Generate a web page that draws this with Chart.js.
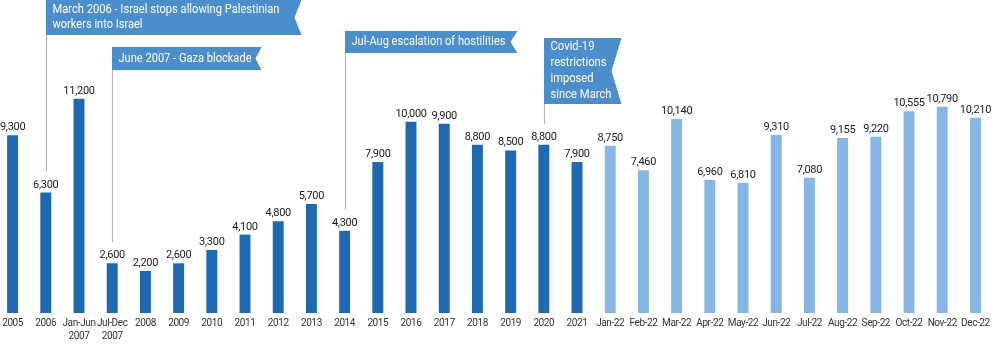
<!DOCTYPE html>
<html><head><meta charset="utf-8">
<script src="https://cdn.jsdelivr.net/npm/chart.js@4"></script>
<style>
html,body{margin:0;padding:0;background:#fff;overflow:hidden;width:1000px;height:353px}
#wrap{position:absolute;left:-4px;top:0;width:999px;height:353px}
</style>
</head><body><div id="wrap"><canvas id="c"></canvas></div>
<script>
// ---- data ----
const categories = ['2005','2006',['Jan-Jun','2007'],['Jul-Dec','2007'],'2008','2009','2010','2011','2012','2013','2014','2015','2016','2017','2018','2019','2020','2021',
  'Jan-22','Feb-22','Mar-22','Apr-22','May-22','Jun-22','Jul-22','Aug-22','Sep-22','Oct-22','Nov-22','Dec-22'];
const values = [9300,6300,11200,2600,2200,2600,3300,4100,4800,5700,4300,7900,10000,9900,8800,8500,8800,7900,
  8750,7460,10140,6960,6810,9310,7080,9155,9220,10555,10790,10210];
const monthlyFrom = 18; // index of first monthly (2022) category
const annotationCats = [1, 3, 10, 16];
const annotationTexts = [
  ['March 2006 - Israel stops allowing Palestinian','workers into Israel'],
  ['June 2007 - Gaza blockade'],
  ['Jul-Aug escalation of hostilities'],
  ['Covid-19','restrictions','imposed','since March']
];
// ---- layout of the callout flags (pixels) ----
const flagLayout = [
  {top:0, bottom:35, width:255, notch:7, textW:[227,90]},
  {top:47, bottom:70, width:149, notch:6, textW:[133]},
  {top:31, bottom:53, width:172, notch:7, textW:[154]},
  {top:38, bottom:104, width:77, notch:10, textW:[44,56,43,61]}
];

const DARK = '#1f69b3', LIGHT = '#86b6e3', FLAG = '#4c8ecc', LINE = '#b4b4b4';

const overlay = {
  id:'overlay',
  beforeDraw(chart){ chart.ctx.letterSpacing = '-0.4px'; },
  afterDatasetsDraw(chart){
    const ctx = chart.ctx, xs = chart.scales.x, ys = chart.scales.y;
    ctx.save();
    ctx.letterSpacing = '-0.3px';
    ctx.font = '11px Roboto';
    ctx.fillStyle = '#1a1a1a';
    ctx.textAlign = 'center';
    ctx.textBaseline = 'alphabetic';
    values.forEach((v,i)=>{
      ctx.fillText(v.toLocaleString('en-US'), xs.getPixelForValue(i), ys.getPixelForValue(v) - 5);
    });
    annotationCats.forEach((cat,k)=>{
      const L = flagLayout[k];
      const lx = Math.round(xs.getPixelForValue(cat)) + 0.5;
      const lineEnd = ys.getPixelForValue(values[cat]) - 21;
      ctx.strokeStyle = LINE; ctx.lineWidth = 1.2;
      ctx.beginPath(); ctx.moveTo(lx, L.bottom); ctx.lineTo(lx, lineEnd); ctx.stroke();
      const mid = (L.top + L.bottom)/2;
      ctx.fillStyle = FLAG;
      ctx.beginPath();
      ctx.moveTo(lx - 0.5, L.top);
      ctx.lineTo(lx + L.width, L.top);
      ctx.lineTo(lx + L.width - L.notch, mid);
      ctx.lineTo(lx + L.width, L.bottom);
      ctx.lineTo(lx - 0.5, L.bottom);
      ctx.closePath(); ctx.fill();
      ctx.fillStyle = '#ffffff';
      ctx.font = '12px Roboto';
      ctx.letterSpacing = '0px';
      ctx.textAlign = 'left';
      ctx.textBaseline = 'middle';
      const lines = annotationTexts[k];
      const lh = lines.length > 2 ? 15.7 : 15.5;
      const y0 = mid - lh*(lines.length-1)/2;
      lines.forEach((t,j)=>{
        ctx.fillText(t, lx + 6, y0 + j*lh, L.textW[j]);
      });
    });
    ctx.restore();
  }
};

new Chart(document.getElementById('c'), {
  type:'bar',
  data:{
    labels: categories,
    datasets:[{
      data: values,
      backgroundColor: values.map((v,i)=> i < monthlyFrom ? DARK : LIGHT),
      barPercentage: 0.33,
      categoryPercentage: 1
    }]
  },
  options:{
    responsive:true,
    maintainAspectRatio:false,
    animation:false,
    layout:{padding:0},
    plugins:{legend:{display:false}, tooltip:{enabled:false}},
    scales:{
      x:{
        grid:{display:false, drawTicks:false},
        border:{display:false},
        ticks:{autoSkip:false, maxRotation:0, minRotation:0, padding:4, color:'#333',
          font:{family:'Roboto', size:10, lineHeight:1.3}},
        afterFit(s){ s.height = 40; }
      },
      y:{display:false, min:0, max:16370}
    }
  },
  plugins:[overlay]
});
</script>
</body></html>
